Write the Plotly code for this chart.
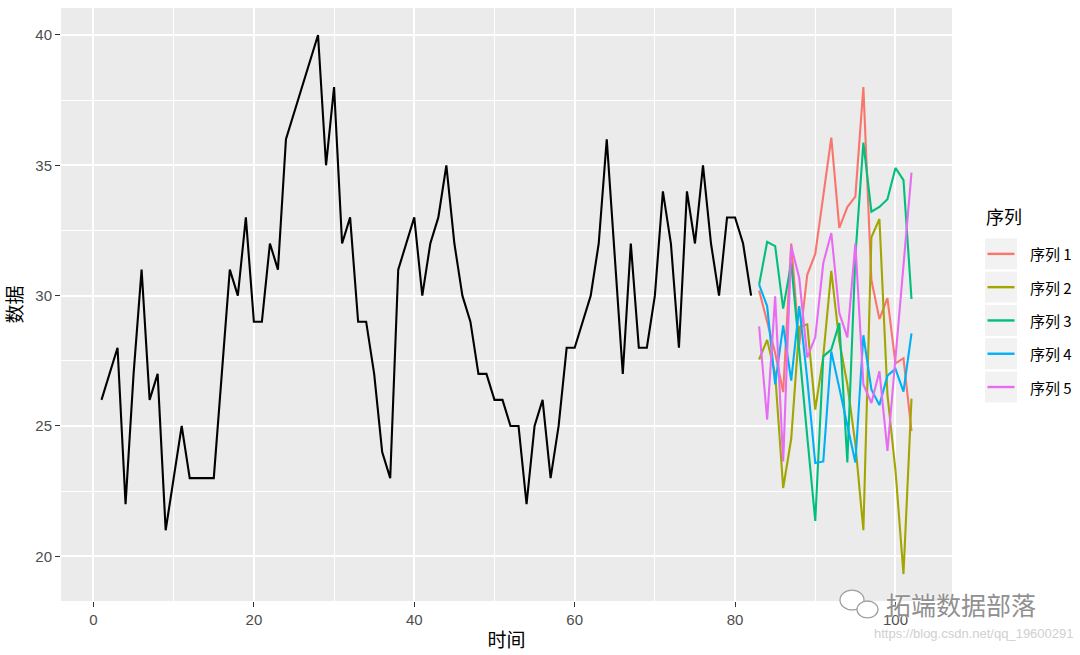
import plotly.graph_objects as go

# ---------------- data ----------------
hist_x = list(range(1, 83))
hist_y = [26, 27, 28, 22, 27, 31, 26, 27, 21, 23,
          25, 23, 23, 23, 23, 27, 31, 30, 33, 29,
          29, 32, 31, 36, 37, 38, 39, 40, 35, 38,
          32, 33, 29, 29, 27, 24, 23, 31, 32, 33,
          30, 32, 33, 35, 32, 30, 29, 27, 27, 26,
          26, 25, 25, 22, 25, 26, 23, 25, 28, 28,
          29, 30, 32, 36, 31.5, 27, 32, 28, 28, 30,
          34, 32, 28, 34, 32, 35, 32, 30, 33, 33,
          32, 30]

sim_x = list(range(83, 103))
series_names = ["序列 1", "序列 2", "序列 3", "序列 4", "序列 5"]
s1 = [30.2, 29.0, 27.8, 26.3, 32.0, 28.1, 30.8, 31.6, 33.8, 36.06,
      32.6, 33.4, 33.8, 38.0, 30.6, 29.1, 29.9, 27.4, 27.6, 24.8]
s2 = [27.55, 28.3, 27.0, 22.62, 24.5, 28.8, 28.9, 25.63, 27.67, 30.95,
      28.25, 26.6, 24.3, 21.0, 32.24, 32.94, 26.2, 23.3, 19.32, 26.05]
s3 = [30.42, 32.06, 31.9, 29.5, 31.25, 27.8, 24.6, 21.36, 27.67, 27.93,
      28.95, 23.6, 31.5, 35.87, 33.22, 33.4, 33.7, 34.9, 34.43, 29.87]
s4 = [30.42, 29.6, 26.6, 28.86, 26.74, 29.6, 26.8, 23.58, 23.64, 27.86,
      26.46, 25.05, 23.6, 28.48, 26.4, 25.8, 26.93, 27.19, 26.32, 28.55]
s5 = [28.82, 25.24, 29.97, 23.64, 31.9, 30.68, 27.63, 28.4, 31.25, 32.4,
      29.33, 28.4, 32.0, 26.59, 25.88, 27.1, 24.04, 27.6, 31.2, 34.72]
series_values = [s1, s2, s3, s4, s5]
series_colors = ["#F8766D", "#A3A500", "#00BF7D", "#00B0F6", "#E76BF3"]

x_ticks = [0, 20, 40, 60, 80, 100]
y_ticks = [20, 25, 30, 35, 40]

x_title = "时间"
y_title = "数据"
legend_title = "序列"
watermark = "拓端数据部落"
watermark_url = "https://blog.csdn.net/qq_19600291"

# ---------------- figure ----------------
W, H = 1080, 655
ML, MR, MT, MB = 61, 128, 8, 52
PW, PH = W - ML - MR, H - MT - MB

def px_x(p):
    return (p - ML) / PW

def px_y(p):
    return 1 - (p - MT) / PH

FONT = "Liberation Sans, Arial, Noto Sans CJK SC, sans-serif"
CJK = "Noto Sans CJK SC, Liberation Sans, sans-serif"

fig = go.Figure()
fig.add_trace(go.Scatter(x=hist_x, y=hist_y, mode="lines",
                         line=dict(color="black", width=2.1),
                         showlegend=False, hoverinfo="skip"))
for name, vals, col in zip(series_names, series_values, series_colors):
    fig.add_trace(go.Scatter(x=sim_x, y=vals, mode="lines", name=name,
                             line=dict(color=col, width=2.1),
                             showlegend=False))

# ggplot-like 5% expansion
all_x = hist_x + sim_x
xmin, xmax = min(all_x), max(all_x)
xpad = (xmax - xmin) * 0.05
all_y = hist_y + [v for s in series_values for v in s]
ymin, ymax = min(all_y), max(all_y)
ypad = (ymax - ymin) * 0.05

axis_common = dict(
    showline=False, zeroline=False,
    gridcolor="white", gridwidth=1.6,
    ticks="outside", ticklen=5, tickwidth=1.1, tickcolor="#333333",
    tickfont=dict(family=FONT, size=15, color="#4D4D4D"),
)

fig.update_xaxes(range=[xmin - xpad, xmax + xpad], tickvals=x_ticks,
                 minor=dict(dtick=10, tick0=0, showgrid=True,
                            gridcolor="white", gridwidth=0.7),
                 title=dict(text=x_title, font=dict(family=CJK, size=19, color="black"),
                            standoff=6),
                 **axis_common)
fig.update_yaxes(range=[ymin - ypad, ymax + ypad], tickvals=y_ticks,
                 minor=dict(dtick=2.5, tick0=0, showgrid=True,
                            gridcolor="white", gridwidth=0.7),
                 title=dict(text=y_title, font=dict(family=CJK, size=19, color="black"),
                            standoff=8),
                 **axis_common)

shapes = []
annotations = []

# ggplot-style legend
annotations.append(dict(x=px_x(984), y=px_y(216.5), xref="paper", yref="paper",
                        xanchor="left", yanchor="middle", showarrow=False,
                        text=legend_title,
                        font=dict(family=CJK, size=18, color="black")))
for i, (name, col) in enumerate(zip(series_names, series_colors)):
    cy = 254.7 + 33.4 * i
    shapes.append(dict(type="rect", xref="paper", yref="paper",
                       x0=px_x(985), x1=px_x(1017), y0=px_y(cy - 15.5), y1=px_y(cy + 15.5),
                       fillcolor="#F2F2F2", line=dict(width=0), layer="above"))
    shapes.append(dict(type="line", xref="paper", yref="paper",
                       x0=px_x(987.5), x1=px_x(1014.5), y0=px_y(cy), y1=px_y(cy),
                       line=dict(color=col, width=2.4), layer="above"))
    annotations.append(dict(x=px_x(1028), y=px_y(cy), xref="paper", yref="paper",
                            xanchor="left", yanchor="middle", showarrow=False,
                            text=name,
                            font=dict(family=CJK, size=15, color="black")))

# watermark (icon + text + url)
shapes.append(dict(type="circle", xref="paper", yref="paper",
                   x0=px_x(840), x1=px_x(864), y0=px_y(612), y1=px_y(592),
                   line=dict(color="#a0a0a0", width=1.3), fillcolor="white", layer="above"))
shapes.append(dict(type="circle", xref="paper", yref="paper",
                   x0=px_x(857), x1=px_x(878), y0=px_y(620), y1=px_y(603),
                   line=dict(color="#a0a0a0", width=1.3), fillcolor="white", layer="above"))
annotations.append(dict(x=px_x(884), y=px_y(606), xref="paper", yref="paper",
                        xanchor="left", yanchor="middle", showarrow=False,
                        text=watermark,
                        font=dict(family=CJK, size=25, color="#909090",
                                  shadow="0px 0px 3px white")))
annotations.append(dict(x=px_x(1076), y=px_y(636), xref="paper", yref="paper",
                        xanchor="right", yanchor="middle", showarrow=False,
                        text=watermark_url,
                        font=dict(family=FONT, size=13, color="#d0d0d0")))

fig.update_layout(
    width=W, height=H, autosize=False,
    margin=dict(l=ML, r=MR, t=MT, b=MB),
    paper_bgcolor="white", plot_bgcolor="#EBEBEB",
    font=dict(family=FONT),
    shapes=shapes, annotations=annotations,
    showlegend=False,
)

fig.write_html("out.html", config={"displayModeBar": False},
               post_script="document.body.style.margin='0';")
